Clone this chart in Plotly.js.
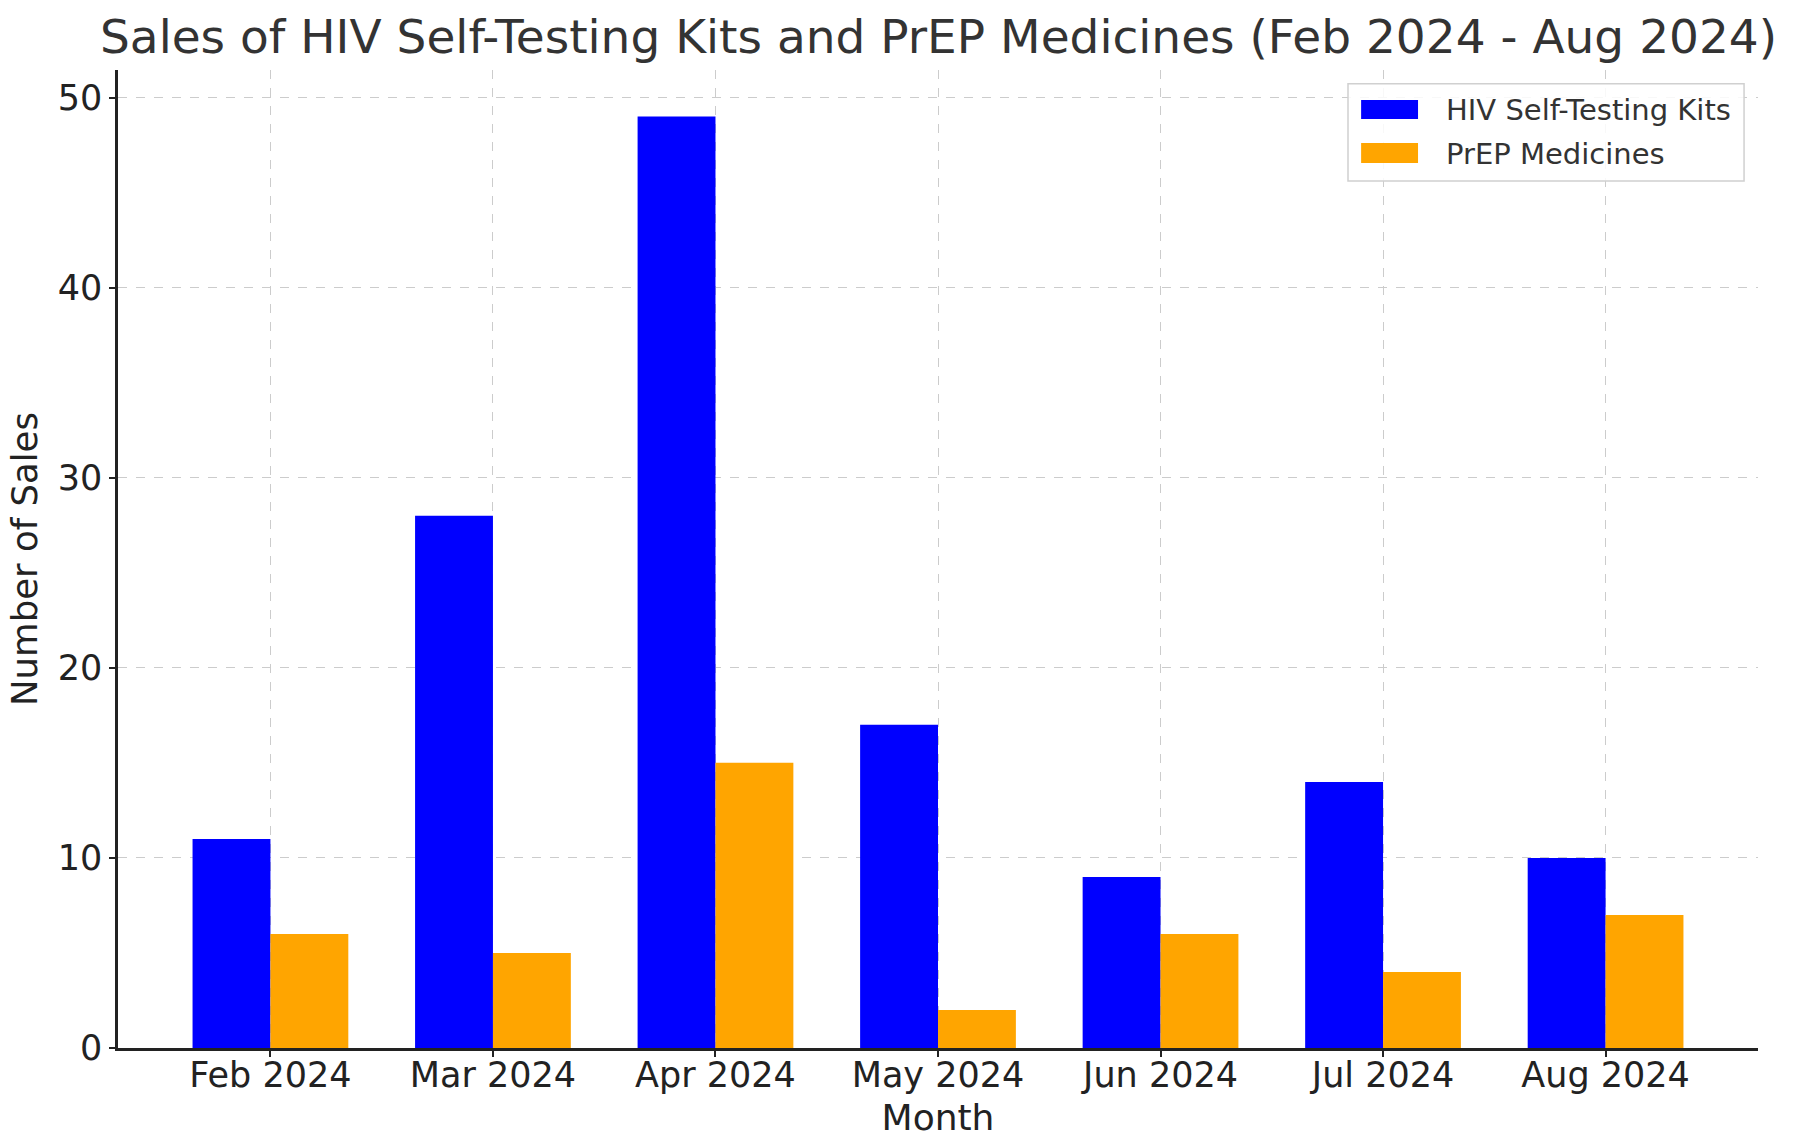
<!DOCTYPE html>
<html>
<head>
<meta charset="utf-8">
<script src="https://cdn.plot.ly/plotly-3.0.1.min.js"></script>
<style>html,body{margin:0;padding:0;background:#fff;}#chart{width:1798px;height:1138px;}</style>
</head>
<body>
<div id="chart"></div>
<script>
const months = ["Feb 2024","Mar 2024","Apr 2024","May 2024","Jun 2024","Jul 2024","Aug 2024"];
const hivKits = [11, 28, 49, 17, 9, 14, 10];
const prepMeds = [6, 5, 15, 2, 6, 4, 7];
const seriesNames = ["HIV Self-Testing Kits", "PrEP Medicines"];
const seriesColors = ["#0000ff", "#ffa500"];
const yTicks = [0, 10, 20, 30, 40, 50];

const idx = months.map((m, i) => i);
const font = "DejaVu Sans, sans-serif";

const traces = [
  {type: "bar", name: seriesNames[0], x: idx.map(i => i - 0.175), y: hivKits, width: 0.35,
   marker: {color: seriesColors[0]}},
  {type: "bar", name: seriesNames[1], x: idx.map(i => i + 0.175), y: prepMeds, width: 0.35,
   marker: {color: seriesColors[1]}}
];

// Legend drawn in matplotlib style (wide rectangle swatches)
const legendShapes = [
  {type: "rect", xref: "paper", yref: "paper", x0: 0.75, x1: 0.9915, y0: 0.8865, y1: 0.986,
   line: {color: "#d0d0d0", width: 1.5}, fillcolor: "rgba(255,255,255,0.85)", layer: "above"},
  {type: "rect", xref: "paper", yref: "paper", x0: 0.758, x1: 0.7927, y0: 0.9499, y1: 0.9693,
   line: {width: 0}, fillcolor: seriesColors[0], layer: "above"},
  {type: "rect", xref: "paper", yref: "paper", x0: 0.758, x1: 0.7927, y0: 0.9049, y1: 0.9254,
   line: {width: 0}, fillcolor: seriesColors[1], layer: "above"}
];
const legendAnnotations = [
  {xref: "paper", yref: "paper", x: 0.8085, y: 0.959, xanchor: "left", yanchor: "middle", showarrow: false,
   text: seriesNames[0], font: {family: font, size: 29, color: "#333"}},
  {xref: "paper", yref: "paper", x: 0.8085, y: 0.914, xanchor: "left", yanchor: "middle", showarrow: false,
   text: seriesNames[1], font: {family: font, size: 29, color: "#333"}}
];

const layout = {
  width: 1798, height: 1138,
  paper_bgcolor: "#fff", plot_bgcolor: "#fff",
  margin: {l: 118, r: 40, t: 70, b: 90},
  font: {family: font, color: "#333", size: 34},
  title: {text: "Sales of HIV Self-Testing Kits and PrEP Medicines (Feb 2024 - Aug 2024)",
          font: {family: font, size: 47, color: "#333"}, x: 0.522, xanchor: "center", y: 0.968, yanchor: "middle"},
  barmode: "overlay",
  showlegend: false,
  shapes: legendShapes,
  annotations: legendAnnotations,
  xaxis: {
    range: [-0.685, 6.685], tickmode: "array", tickvals: idx, ticktext: months,
    showline: true, linecolor: "#222", linewidth: 2.5, mirror: false,
    ticks: "outside", ticklen: 6, tickwidth: 2, tickcolor: "#222",
    ticklabelstandoff: -12,
    showgrid: true, gridcolor: "#cccccc", griddash: "dash", gridwidth: 1.2,
    tickfont: {family: font, size: 35, color: "#222"}, zeroline: false,
    title: {text: "Month", font: {family: font, size: 36, color: "#222"}, standoff: 15}
  },
  yaxis: {
    range: [0, 51.45], tickmode: "array", tickvals: yTicks,
    showline: true, linecolor: "#222", linewidth: 2.5,
    ticks: "outside", ticklen: 6, tickwidth: 2, tickcolor: "#222",
    showgrid: true, gridcolor: "#cccccc", griddash: "dash", gridwidth: 1.2,
    tickfont: {family: font, size: 35, color: "#222"}, zeroline: false,
    title: {text: "Number of Sales", font: {family: font, size: 35.5, color: "#222"}, standoff: 10}
  }
};

Plotly.newPlot("chart", traces, layout, {displayModeBar: false});
</script>
</body>
</html>
